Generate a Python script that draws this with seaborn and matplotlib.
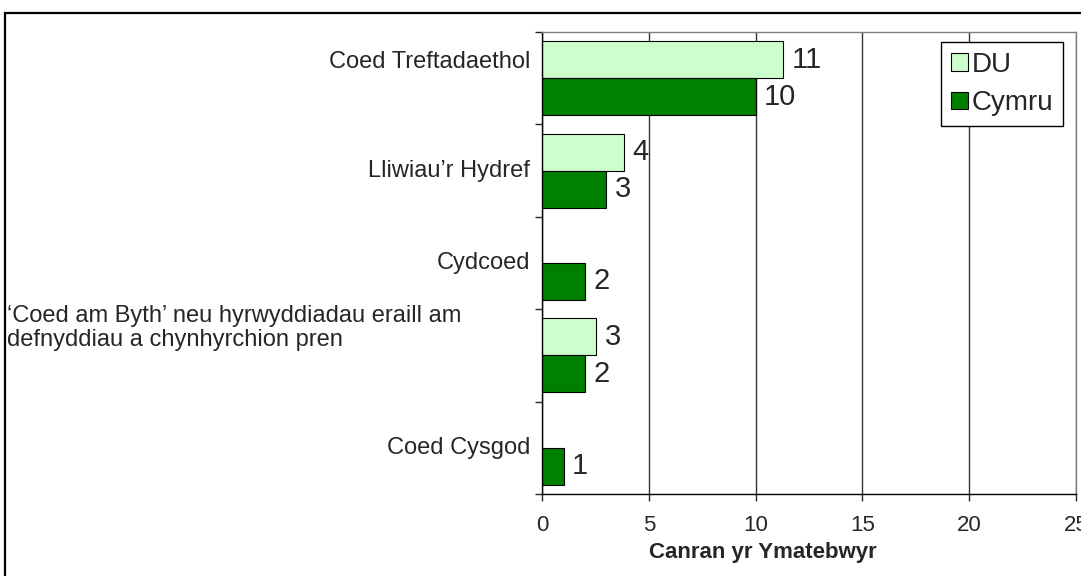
import seaborn as sns
import matplotlib.pyplot as plt
import matplotlib.transforms as mtransforms
from matplotlib.patches import Rectangle
import numpy as np
import pandas as pd

# Data
categories = [
    "Coed Treftadaethol",
    "Lliwiau\u2019r Hydref",
    "Cydcoed",
    "\u2018Coed am Byth\u2019 neu hyrwyddiadau eraill am\ndefnyddiau a chynhyrchion pren",
    "Coed Cysgod",
]
du_values = [11.3, 3.86, np.nan, 2.54, np.nan]
cymru_values = [10.0, 3.0, 2.03, 2.03, 1.02]
series = ["DU", "Cymru"]
colors = ["#CCFFCC", "#008000"]

df = pd.DataFrame({
    "category": categories * 2,
    "value": du_values + cymru_values,
    "series": ["DU"] * len(categories) + ["Cymru"] * len(categories),
})

sns.set_style("white")
plt.rcParams["font.family"] = ["Liberation Sans", "DejaVu Sans"]

fig = plt.figure(figsize=(10.81, 5.76), dpi=100)
ax = fig.add_axes([542 / 1081, 1 - 494 / 576, 534 / 1081, 462 / 576])

sns.barplot(
    data=df, x="value", y="category", hue="series", orient="h",
    order=categories, hue_order=series, palette=colors, saturation=1,
    width=0.8, edgecolor="black", linewidth=0.8, ax=ax,
)

ax.set_xlim(0, 25)
ax.set_ylim(4.5, -0.5)
ax.set_xticks([0, 5, 10, 15, 20, 25])
ax.tick_params(axis="x", labelsize=16, length=5, width=1, pad=10, direction="out", bottom=True)
ax.grid(axis="x", color="#333333", linewidth=1)
ax.set_axisbelow(True)

# category ticks at band edges, labels drawn by hand
ax.set_yticks(np.arange(-0.5, 5, 1))
ax.set_yticklabels([])
ax.tick_params(axis="y", length=5, width=1, direction="out", left=True)

for side in ["top", "right"]:
    ax.spines[side].set_color("#808080")
    ax.spines[side].set_linewidth(1)
for side in ["left", "bottom"]:
    ax.spines[side].set_color("black")
    ax.spines[side].set_linewidth(1)

trans = mtransforms.blended_transform_factory(ax.transAxes, ax.transData)
nudge = {0: -0.17, 3: -0.3}
for i, name in enumerate(categories):
    y = i + nudge.get(i, 0)
    if "\n" in name:
        ax.text(-1.002, y, name, transform=trans, ha="left", va="center",
                fontsize=17, linespacing=1.1)
    else:
        ax.text(-0.0225, y, name, transform=trans, ha="right", va="center",
                fontsize=17)

# value labels
for container in ax.containers:
    labels = ["" if np.isnan(v) else f"{v:.0f}" for v in container.datavalues]
    ax.bar_label(container, labels=labels, padding=6, fontsize=21)

ax.set_ylabel("")
ax.set_xlabel("Canran yr Ymatebwyr", fontsize=16, fontweight="bold")
ax.xaxis.set_label_coords((763 - 542) / 534, -0.104)
ax.xaxis.label.set_va("top")

leg = ax.legend(
    loc="upper right", bbox_to_anchor=(0.976, 0.978), fontsize=20,
    frameon=True, fancybox=False, framealpha=1, edgecolor="black",
    handlelength=0.6, handleheight=0.6, handletextpad=0.15,
    borderpad=0.35, labelspacing=0.45, borderaxespad=0,
)
leg.get_frame().set_linewidth(1)

# outer chart frame (cut off at right and bottom)
fig.patches.append(Rectangle(
    (5 / 1081, -0.05), 1.1, 1 - 13 / 576 + 0.05, transform=fig.transFigure,
    fill=False, edgecolor="black", linewidth=1.6, clip_on=False,
))

fig.savefig("out.png", dpi=100)
